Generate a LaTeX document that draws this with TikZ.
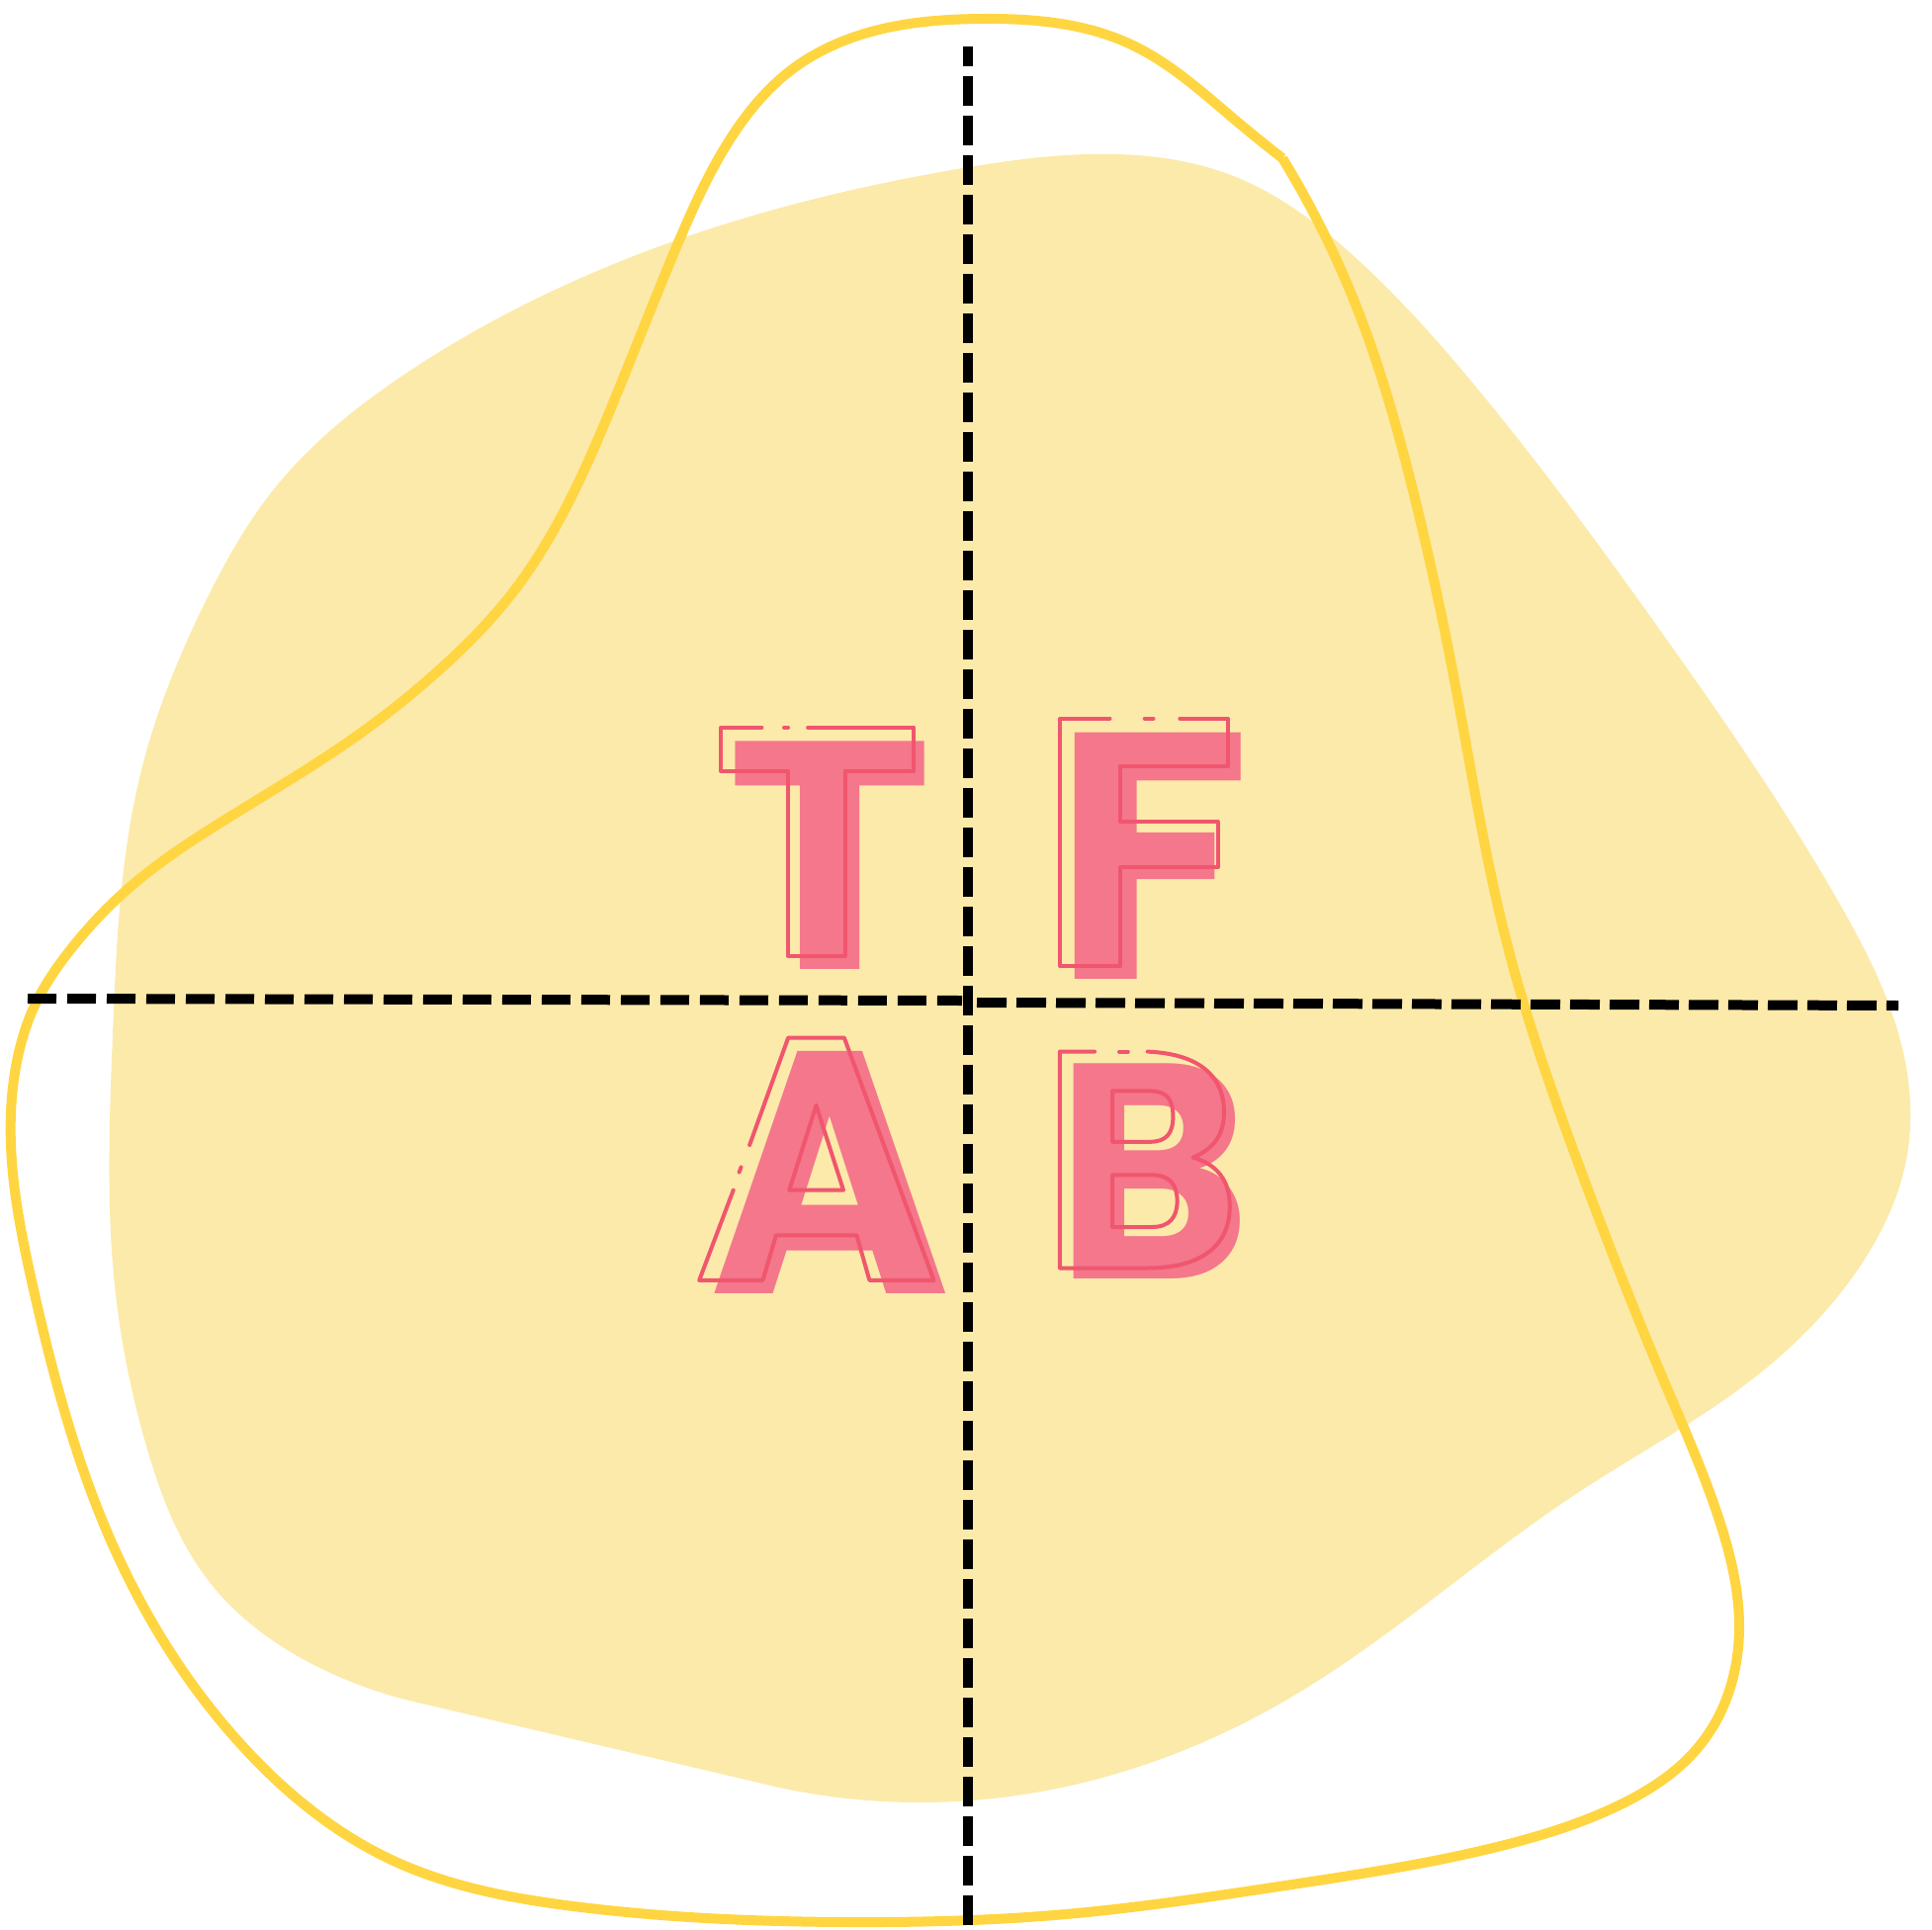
\documentclass[tikz,border=0pt]{standalone}
\usepackage{fontspec}
\setmainfont{Poppins}
\usepackage{graphicx}
\usetikzlibrary{hobby}

\definecolor{blob}{RGB}{252,234,170}
\definecolor{sun}{RGB}{255,213,65}
\definecolor{rose}{RGB}{244,119,140}
\definecolor{roseline}{RGB}{240,86,110}

\newcommand\glyph[3]{\resizebox{#1mm}{#2mm}{#3}}

\tikzset{
  blobfill/.style={fill=blob, use Hobby shortcut},
  blobline/.style={draw=sun, line width=1mm, line join=miter, use Hobby shortcut},
  guide/.style={draw=black, line width=1mm},
  letter/.style={inner sep=0pt, anchor=base, text=rose, font=\bfseries},
  letterline/.style={draw=roseline, line width=0.4mm, line cap=round, line join=round},
}

\begin{document}
\begin{tikzpicture}[x=0.1mm, y=-0.1mm]
    \useasboundingbox (0,0) rectangle (1954,1952);

    % pale blob
    \fill[blobfill] (784,1807) .. (929,1823) .. (1078,1807) .. (1300,1720) .. (1594,1511)
        .. (1767,1399) .. (1890,1267) .. (1928,1173) .. (1927,1074) .. (1860,913)
        .. (1683,643) .. (1500,400) .. (1367,257) .. (1250,179) .. (1130,156)
        .. (974,170) .. (684,243) .. (413,376) .. (276,496) .. (210,604)
        .. (143,779) .. (114,1046) .. (116,1300) .. (149,1466) .. (211,1599)
        .. (332,1691) .. (427,1723) -- cycle;

    % outline curve
    \draw[blobline] (1297,160) .. (1373,313) .. (1430,500) .. (1470,683) .. (1523,950)
        .. (1600,1187) .. (1683,1397) .. (1740,1541) .. (1759,1645) .. (1721,1763)
        .. (1633,1828) .. (1518,1867) .. (1300,1907) .. (1078,1936) .. (854,1944)
        .. (580,1928) .. (398,1882) .. (249,1770) .. (112,1558)
        .. (33,1300) .. (11,1158) .. (18,1069) .. (36,1015) .. (67,966)
        .. (134,895) .. (223,832) .. (357,747) .. (446,676) .. (518,600) .. (617,415)
        .. (684,250) .. (737,143) .. (800,71) .. (885,31) .. (992,19) .. (1144,45)
        .. (1250,122) .. (1297,160);

    % solid letters
    \node[letter] (T) at (839.3,980.3) {\glyph{20.8}{23.05}{T}};
    \node[letter] (F) at (1164.7,990.2) {\glyph{20.1}{24.92}{F}};
    \node[letter] (A) at (839.3,1308.2) {\glyph{24.4}{24.5}{A}};
    \node[letter] (B) at (1166.2,1293.7) {\glyph{19.8}{21.77}{B}};

    % broken outlines
    \draw[letterline] (817.1,735.7) -- (924.2,735.7) -- (924.2,779.6) -- (854.6,779.6)
        -- (854.6,967) -- (797.2,967) -- (797.2,779.6) -- (729,779.6) -- (729,735.7)
        -- (770.4,735.7);
    \draw[letterline] (793,735.7) -- (797,735.7);

    \draw[letterline] (1193.3,726.5) -- (1241.9,726.5) -- (1241.9,774.6) -- (1133.2,774.6)
        -- (1133.2,831) -- (1231.5,831) -- (1231.5,877.4) -- (1133.2,877.4)
        -- (1133.2,977) -- (1071.9,977) -- (1071.9,726.5) -- (1122.5,726.5);
    \draw[letterline] (1157.7,726.5) -- (1166.5,726.5);

    \draw[letterline] (741.7,1203.7) -- (707.2,1294.9) -- (771.5,1294.9) -- (784.9,1249.3)
        -- (866.4,1249.3) -- (879.4,1294.9) -- (944.5,1294.9) -- (853.8,1049.5)
        -- (797.2,1049.5) -- (758.1,1158.1);
    \draw[letterline] (749.5,1180.5) -- (747.6,1185.6);
    \draw[letterline] (825.5,1117.9) -- (853,1203.7) -- (798.3,1203.7) -- cycle;

    \draw[letterline] (1160.7,1063.6) .. controls (1215,1066) and (1238,1090) .. (1238,1125)
        .. controls (1238,1150) and (1225,1163) .. (1206.6,1170.6)
        .. controls (1232,1178) and (1243.8,1195) .. (1243.8,1220)
        .. controls (1243.8,1260) and (1215,1282.5) .. (1160.7,1282.5)
        -- (1071.9,1282.5) -- (1071.9,1063.6) -- (1107.1,1063.6);
    \draw[letterline] (1132,1063.6) -- (1140.8,1063.6);
    \draw[letterline] (1125.1,1103.4) -- (1163,1103.4) .. controls (1180,1103.4) and (1186.4,1112) .. (1186.4,1129)
        .. controls (1186.4,1146) and (1180,1154.8) .. (1163,1154.8) -- (1125.1,1154.8) -- cycle;
    \draw[letterline] (1125.1,1188.4) -- (1165,1188.4) .. controls (1183,1188.4) and (1190.6,1198) .. (1190.6,1214.7)
        .. controls (1190.6,1231) and (1183,1241) .. (1165,1241) -- (1125.1,1241) -- cycle;

    % dashed axes
    \draw[guide, dash pattern=on 3mm off 1mm, dash phase=1mm] (979,47) -- (979,1952);
    \draw[guide, dash pattern=on 2.9mm off 1.1mm] (28,1010) -- (973,1012);
    \draw[guide, dash pattern=on 3mm off 1mm] (988,1014) -- (1920,1017);

\end{tikzpicture}
\end{document}
